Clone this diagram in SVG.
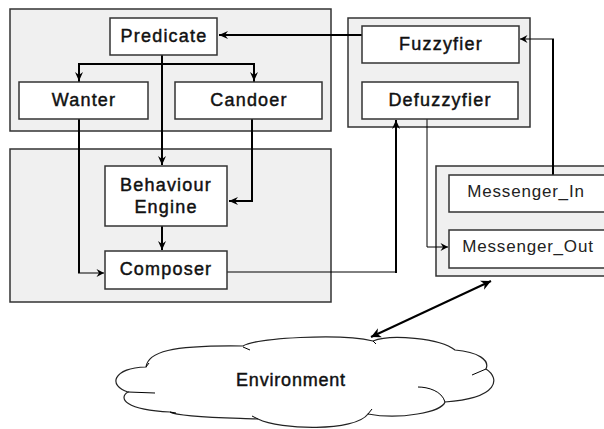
<svg xmlns="http://www.w3.org/2000/svg" width="604" height="429" viewBox="0 0 604 429">
<defs>
<style>
.grp{fill:#f0f0f0;stroke:#333;stroke-width:1.5}
.box{fill:#fff;stroke:#333;stroke-width:1.5}
.t{font-family:"Liberation Sans",Arial,sans-serif;font-size:18px;letter-spacing:1.2px;fill:#111;stroke:#111;stroke-width:0.45;text-anchor:middle}
.tm{font-family:"Liberation Sans",Arial,sans-serif;font-size:17px;letter-spacing:0.8px;fill:#222;text-anchor:middle}
.bold{fill:none;stroke:#000;stroke-width:2}
.thin{fill:none;stroke:#000;stroke-width:1}
.cloud{fill:#fff;stroke:#222;stroke-width:1.2}
</style>
<marker id="af" markerUnits="userSpaceOnUse" markerWidth="10" markerHeight="10" refX="9" refY="5" orient="auto">
<path d="M0,1 L9,5 L0,9 L3,5 z" fill="#000"/>
</marker>
<marker id="ao" markerUnits="userSpaceOnUse" markerWidth="10" markerHeight="10" refX="8.5" refY="5" orient="auto">
<path d="M1,1 L8.5,5 L1,9 L3.5,5 z" fill="#000"/>
</marker>
<marker id="as" markerUnits="userSpaceOnUse" markerWidth="12" markerHeight="12" refX="10" refY="6" orient="auto-start-reverse">
<path d="M0,1 L10,6 L0,11 L3,6 z" fill="#000"/>
</marker>
</defs>

<g id="group-top"><rect class="grp" x="10" y="9" width="321" height="122"/></g>
<g id="group-bottom"><rect class="grp" x="10" y="149" width="321" height="153"/></g>
<g id="group-fuzzy"><rect class="grp" x="348" y="18" width="182" height="109"/></g>
<g id="group-messenger"><rect class="grp" x="436" y="166" width="180" height="110"/></g>

<g id="connectors">
<path class="bold" d="M362,35 H219" marker-end="url(#af)"/>
<path class="bold" d="M79,82 V64 H254 V82" />
<path class="bold" d="M79,64 V81" marker-end="url(#af)"/>
<path class="bold" d="M254,64 V81" marker-end="url(#af)"/>
<path class="bold" d="M162,55 V165" marker-end="url(#af)"/>
<path class="bold" d="M252,119 V201 H229" marker-end="url(#af)"/>
<path class="bold" d="M162,226 V250" marker-end="url(#af)"/>
<path class="bold" d="M79,119 V273"/>
<path class="thin" d="M78,273 H104" marker-end="url(#ao)"/>
<path class="thin" d="M227,272 H396"/>
<path class="bold" d="M396,273 V120" marker-end="url(#af)"/>
<path class="thin" d="M427,119 V247 H448" marker-end="url(#ao)"/>
<path class="bold" d="M553,175 V39"/>
<path class="thin" d="M554,39 H520" marker-end="url(#ao)"/>
<path class="bold" d="M371,337 L491,281" stroke-width="2.5" marker-start="url(#as)" marker-end="url(#as)"/>
</g>

<g id="predicate"><rect class="box" x="110" y="18" width="107" height="37"/><text class="t" x="164" y="42">Predicate</text></g>
<g id="wanter"><rect class="box" x="19" y="82" width="129" height="37"/><text class="t" x="84" y="106">Wanter</text></g>
<g id="candoer"><rect class="box" x="175" y="82" width="147" height="37"/><text class="t" x="249" y="106">Candoer</text></g>
<g id="behaviour-engine"><rect class="box" x="105" y="166" width="122" height="60"/><text class="t" x="166" y="191">Behaviour</text><text class="t" x="166" y="213">Engine</text></g>
<g id="composer"><rect class="box" x="105" y="251" width="122" height="38"/><text class="t" x="166" y="275">Composer</text></g>
<g id="fuzzyfier"><rect class="box" x="362" y="26" width="157" height="37"/><text class="t" x="441" y="50">Fuzzyfier</text></g>
<g id="defuzzyfier"><rect class="box" x="362" y="82" width="156" height="37"/><text class="t" x="440" y="106">Defuzzyfier</text></g>
<g id="messenger-in"><rect class="box" x="449" y="175" width="170" height="37"/><text class="tm" x="526" y="197">Messenger_In</text></g>
<g id="messenger-out"><rect class="box" x="449" y="230" width="170" height="38"/><text class="tm" x="528" y="252">Messenger_Out</text></g>

<g id="environment">
<path class="cloud" d="M146,367 C148,352 170,345 243,346 C255,338 340,333 373,341 C390,334 440,338 455,350 C478,352 490,360 486,369 C500,378 500,398 445,402 C442,412 400,420 368,414 C355,432 280,430 258,419 C240,418 180,418 170,412 C125,410 118,398 128,392 C108,386 112,368 146,367 Z"/>
<path class="thin" d="M146,367 L149,363 M243,347 L250,350 M373,341 L376,344 M486,369 L472,375 M445,402 C442,391 428,387 418,387 M128,392 L155,393 M170,412 L176,413 M258,419 L252,416 M368,414 L372,409" stroke="#222"/>
<text class="t" x="291" y="386" style="letter-spacing:0.8px">Environment</text>
</g>
</svg>
